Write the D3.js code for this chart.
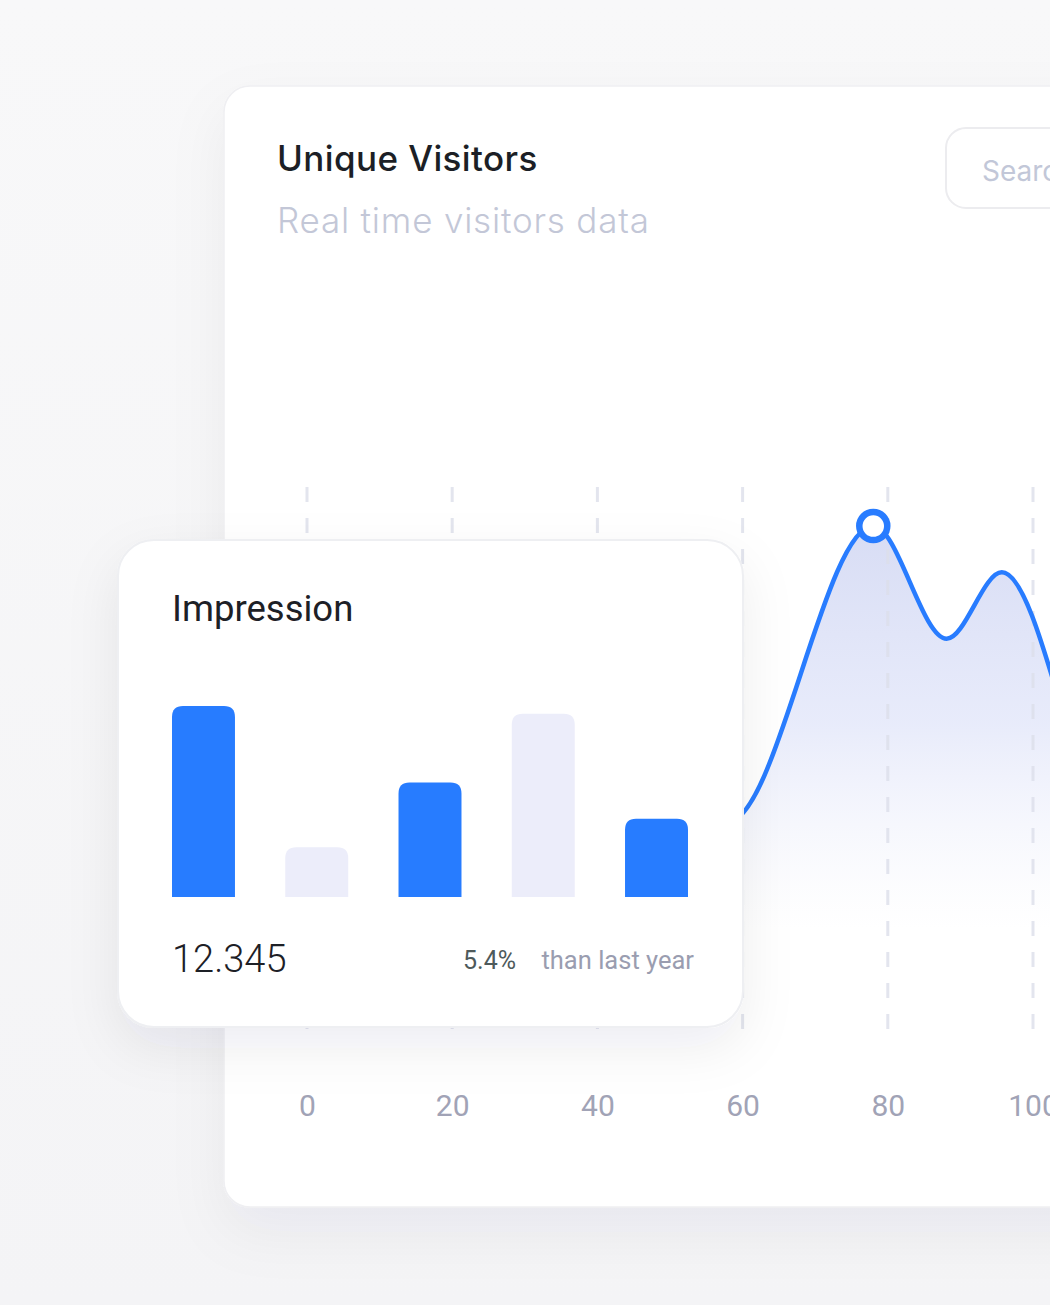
<!DOCTYPE html>
<html>
<head>
<meta charset="utf-8">
<script src="https://cdn.jsdelivr.net/npm/d3@7"></script>
<style>
  html, body { margin: 0; padding: 0; background: #f7f7f8; }
  svg { display: block; }
</style>
</head>
<body>
<div id="chart"></div>
<script>
// visitors line (x = position on 0-100 axis, value = visitors index)
var visitX = [0, 10, 20, 30, 40, 50, 58, 78, 88.1, 95.7, 104];
var visitY = [30, 45, 35, 55, 45, 50, 40, 93, 72.8, 84.7, 60];
var xTicks = [0, 20, 40, 60, 80, 100];
var peakIndex = 7;

// impression bars
var barCats = ['A', 'B', 'C', 'D', 'E'];
var barVals = [100, 26, 60, 96, 41];
var total = '12.345';
var change = '5.4%';

var W = 1050, H = 1305;
var svg = d3.select('#chart').append('svg')
  .attr('width', W)
  .attr('height', H);

var defs = svg.append('defs');

// page background
var bg = defs.append('linearGradient').attr('id', 'bg')
  .attr('x1', 0).attr('y1', 0).attr('x2', 0).attr('y2', 1);
bg.append('stop').attr('offset', '0%').attr('stop-color', '#f8f8f9');
bg.append('stop').attr('offset', '100%').attr('stop-color', '#f4f4f6');
svg.append('rect').attr('width', W).attr('height', H).attr('fill', 'url(#bg)');

// shadows
var sh1 = defs.append('filter').attr('id', 'sh1')
  .attr('x', '-20%').attr('y', '-20%').attr('width', '140%').attr('height', '140%');
sh1.append('feDropShadow').attr('dx', 0).attr('dy', 24).attr('stdDeviation', 28)
  .attr('flood-color', '#1a1f3a').attr('flood-opacity', 0.05);
var sh2 = defs.append('filter').attr('id', 'sh2')
  .attr('x', '-30%').attr('y', '-30%').attr('width', '160%').attr('height', '160%');
sh2.append('feDropShadow').attr('dx', 0).attr('dy', 20).attr('stdDeviation', 26)
  .attr('flood-color', '#1a1f3a').attr('flood-opacity', 0.07);

// area gradient
var ag = defs.append('linearGradient').attr('id', 'area')
  .attr('gradientUnits', 'userSpaceOnUse')
  .attr('x1', 0).attr('y1', 520).attr('x2', 0).attr('y2', 930);
ag.append('stop').attr('offset', '0%').attr('stop-color', '#d7dcf4').attr('stop-opacity', 1);
ag.append('stop').attr('offset', '50%').attr('stop-color', '#e4e8fa').attr('stop-opacity', 0.85);
ag.append('stop').attr('offset', '100%').attr('stop-color', '#f1f2fb').attr('stop-opacity', 0);

// main card
svg.append('rect')
  .attr('x', 224).attr('y', 86)
  .attr('width', 900).attr('height', 1121)
  .attr('rx', 26)
  .attr('fill', '#ffffff')
  .attr('stroke', '#efeff2').attr('stroke-width', 1.5)
  .attr('filter', 'url(#sh1)');

svg.append('text')
  .attr('x', 277).attr('y', 171)
  .attr('font-family', 'Inter, sans-serif')
  .attr('font-weight', 500)
  .attr('font-size', 35)
  .attr('letter-spacing', 0.4)
  .attr('fill', '#1c1f26')
  .text('Unique Visitors');

svg.append('text')
  .attr('x', 277).attr('y', 233)
  .attr('font-family', 'Inter, sans-serif')
  .attr('font-weight', 300)
  .attr('font-size', 35)
  .attr('letter-spacing', 0.8)
  .attr('fill', '#c3c7d7')
  .text('Real time visitors data');

// search box
svg.append('rect')
  .attr('x', 946).attr('y', 128)
  .attr('width', 200).attr('height', 80)
  .attr('rx', 20)
  .attr('fill', '#ffffff')
  .attr('stroke', '#ececef').attr('stroke-width', 2);
svg.append('text')
  .attr('x', 982).attr('y', 181)
  .attr('font-family', 'Inter, sans-serif')
  .attr('font-size', 28)
  .attr('fill', '#c2c7d8')
  .text('Search');

// line chart scales
var x = d3.scaleLinear().domain([0, 100]).range([307, 1033]);
var y = d3.scaleLinear().domain([0, 100]).range([1045, 487]);

var plot = svg.append('g');

var pts = visitX.map(function (v, i) { return [v, visitY[i]]; });

var area = d3.area()
  .x(function (d) { return x(d[0]); })
  .y0(y(0))
  .y1(function (d) { return y(d[1]); })
  .curve(d3.curveMonotoneX);

plot.append('path')
  .datum(pts)
  .attr('d', area)
  .attr('fill', 'url(#area)');

// dashed grid
plot.selectAll('.grid')
  .data(xTicks)
  .enter().append('line')
  .attr('class', 'grid')
  .attr('x1', function (d) { return x(d); })
  .attr('x2', function (d) { return x(d); })
  .attr('y1', y(100))
  .attr('y2', y(0))
  .attr('stroke', '#dcdfea')
  .attr('stroke-opacity', 0.8)
  .attr('stroke-width', 3)
  .attr('stroke-dasharray', '15 16');

var line = d3.line()
  .x(function (d) { return x(d[0]); })
  .y(function (d) { return y(d[1]); })
  .curve(d3.curveMonotoneX);

plot.append('path')
  .datum(pts)
  .attr('d', line)
  .attr('fill', 'none')
  .attr('stroke', '#287cff')
  .attr('stroke-width', 4.5)
  .attr('stroke-linecap', 'round');

plot.append('circle')
  .attr('cx', x(visitX[peakIndex]))
  .attr('cy', y(visitY[peakIndex]))
  .attr('r', 14)
  .attr('fill', '#ffffff')
  .attr('stroke', '#287cff')
  .attr('stroke-width', 6.5);

// x axis labels
var xAxis = d3.axisBottom(x).tickValues(xTicks).tickSize(0).tickPadding(0);
var gx = svg.append('g')
  .attr('transform', 'translate(0,1095)')
  .call(xAxis);
gx.select('.domain').remove();
gx.selectAll('text')
  .attr('font-family', 'Roboto, sans-serif')
  .attr('font-size', 30)
  .attr('fill', '#a1a3b6')
  .attr('dy', '0.7em');

// impression card
var card = svg.append('g');
card.append('rect')
  .attr('x', 118).attr('y', 540)
  .attr('width', 625).attr('height', 487)
  .attr('rx', 36)
  .attr('fill', '#ffffff')
  .attr('stroke', '#eeeff2').attr('stroke-width', 2)
  .attr('filter', 'url(#sh2)');

card.append('text')
  .attr('x', 172).attr('y', 621)
  .attr('font-family', 'Roboto, sans-serif')
  .attr('font-size', 36.5)
  .attr('fill', '#1d2026')
  .text('Impression');

var bx = d3.scaleBand()
  .domain(barCats)
  .range([172, 688])
  .paddingInner(0.444)
  .paddingOuter(0);
var by = d3.scaleLinear().domain([0, 100]).range([897, 706]);

function topRounded(x0, y0, w, h, r) {
  r = Math.min(r, h, w / 2);
  return 'M' + x0 + ',' + (y0 + h) +
    'V' + (y0 + r) +
    'Q' + x0 + ',' + y0 + ' ' + (x0 + r) + ',' + y0 +
    'H' + (x0 + w - r) +
    'Q' + (x0 + w) + ',' + y0 + ' ' + (x0 + w) + ',' + (y0 + r) +
    'V' + (y0 + h) + 'Z';
}

card.selectAll('.bar')
  .data(barVals)
  .enter().append('path')
  .attr('class', 'bar')
  .attr('d', function (d, i) {
    return topRounded(bx(barCats[i]), by(d), bx.bandwidth(), by(0) - by(d), 11);
  })
  .attr('fill', function (d, i) { return i % 2 === 0 ? '#277cff' : '#ecedfa'; });

card.append('text')
  .attr('x', 172).attr('y', 972)
  .attr('font-family', 'Roboto, sans-serif')
  .attr('font-weight', 300)
  .attr('font-size', 38)
  .attr('fill', '#1d2026')
  .text(total);

card.append('text')
  .attr('x', 463).attr('y', 969)
  .attr('font-family', 'Roboto, sans-serif')
  .attr('font-size', 25)
  .attr('fill', '#4e5a5b')
  .text(change);

card.append('text')
  .attr('x', 694).attr('y', 969)
  .attr('text-anchor', 'end')
  .attr('font-family', 'Roboto, sans-serif')
  .attr('font-size', 25.5)
  .attr('fill', '#9a9db0')
  .text('than last year');
</script>
</body>
</html>
